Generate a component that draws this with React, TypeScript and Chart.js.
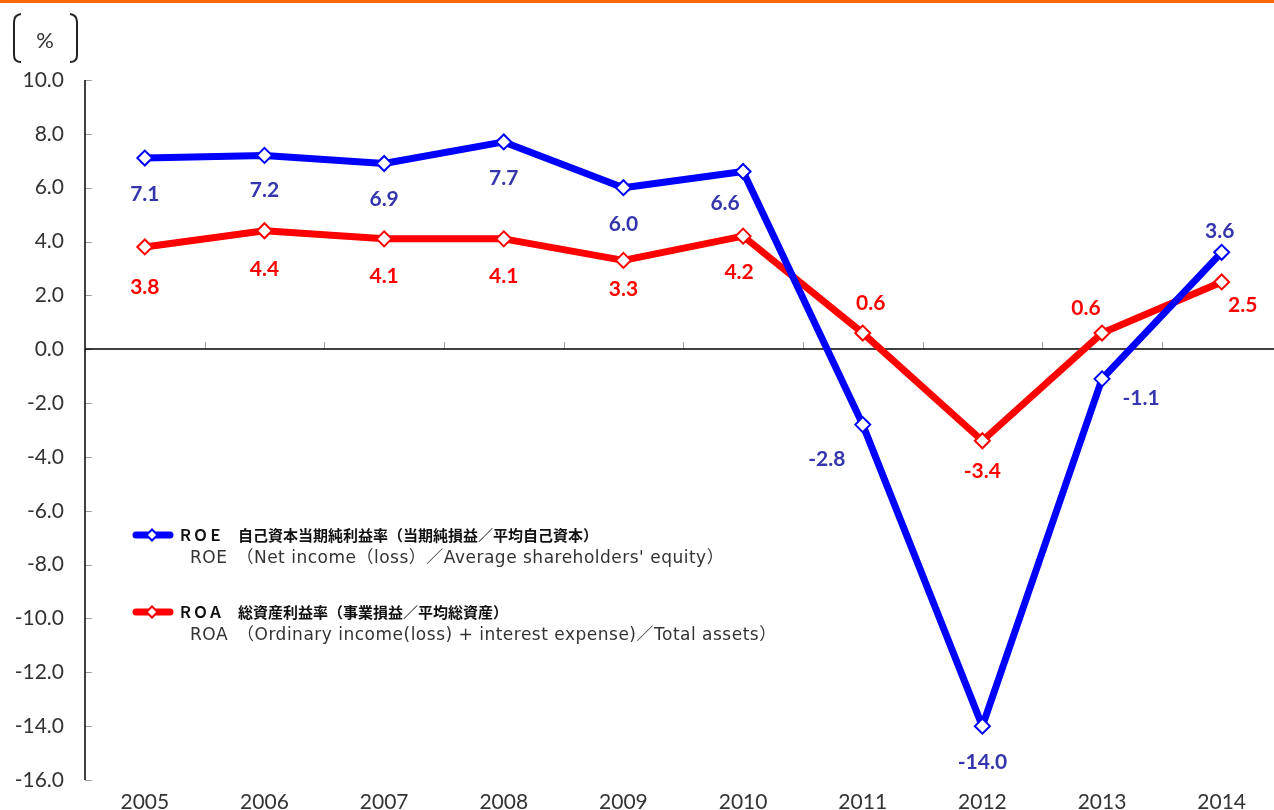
import React, { useEffect, useRef } from "react";
import { Chart, registerables } from "chart.js";

Chart.register(...registerables);

const years = ["2005", "2006", "2007", "2008", "2009", "2010", "2011", "2012", "2013", "2014"];
const roeValues = [7.1, 7.2, 6.9, 7.7, 6.0, 6.6, -2.8, -14.0, -1.1, 3.6];
const roaValues = [3.8, 4.4, 4.1, 4.1, 3.3, 4.2, 0.6, -3.4, 0.6, 2.5];
const yMin = -16;
const yMax = 10;
const yStep = 2;

const roeLabelOffsets: [number, number][] = [
  [0, 36], [0, 35], [0, 36], [0, 36], [0, 37], [-18, 32], [-36, 35], [0, 36], [39, 19], [-2, -21],
];
const roaLabelOffsets: [number, number][] = [
  [0, 40], [0, 38], [0, 37], [0, 37], [0, 29], [-4, 36], [8, -30], [0, 30], [-16, -25], [21, 23],
];

const legendItems = [
  {
    color: "#0000FF",
    title: "ＲＯＥ　自己資本当期純利益率（当期純損益／平均自己資本）",
    sub: "ROE　（Net income（loss）／Average shareholders' equity）",
    y: 535,
  },
  {
    color: "#FF0000",
    title: "ＲＯＡ　総資産利益率（事業損益／平均総資産）",
    sub: "ROA　（Ordinary income(loss) + interest expense)／Total assets）",
    y: 612,
  },
];

const TICK_FONT = "Lato, 'Noto Sans', sans-serif";
const CJK_FONT = "'Noto Sans CJK JP', 'Noto Sans', sans-serif";
const SUB_FONT = "'DejaVu Sans', 'Noto Sans CJK JP', sans-serif";

const decorPlugin = {
  id: "decor",
  beforeDatasetsDraw(chart: any) {
    const { ctx, chartArea, scales } = chart;
    const ys = scales.y;
    const xs = scales.x;
    ctx.save();
    ctx.strokeStyle = "#A0A0A0";
    ctx.lineWidth = 1;
    for (let v = yMin; v <= yMax; v += yStep) {
      const py = Math.round(ys.getPixelForValue(v)) + 0.5;
      ctx.beginPath();
      ctx.moveTo(chartArea.left, py);
      ctx.lineTo(chartArea.left + 7, py);
      ctx.stroke();
    }
    const y0 = Math.round(ys.getPixelForValue(0));
    for (let i = 1; i < years.length; i++) {
      const px = Math.round((xs.getPixelForValue(i - 1) + xs.getPixelForValue(i)) / 2) + 0.5;
      ctx.beginPath();
      ctx.moveTo(px, y0 - 7);
      ctx.lineTo(px, y0);
      ctx.stroke();
    }
    ctx.strokeStyle = "#000000";
    ctx.lineWidth = 1.5;
    ctx.beginPath();
    ctx.moveTo(chartArea.left, chartArea.top);
    ctx.lineTo(chartArea.left, chartArea.bottom);
    ctx.stroke();
    ctx.beginPath();
    ctx.moveTo(chartArea.left, y0);
    ctx.lineTo(chartArea.right, y0);
    ctx.stroke();
    ctx.restore();
  },
  afterDatasetsDraw(chart: any) {
    const { ctx } = chart;
    ctx.save();
    ctx.font = `bold 21px ${TICK_FONT}`;
    ctx.textAlign = "center";
    ctx.textBaseline = "middle";
    const configs = [
      { values: roeValues, offsets: roeLabelOffsets, color: "#3535AD" },
      { values: roaValues, offsets: roaLabelOffsets, color: "#FF0000" },
    ];
    configs.forEach((cfg, di) => {
      const meta = chart.getDatasetMeta(di);
      meta.data.forEach((pt: any, i: number) => {
        const [dx, dy] = cfg.offsets[i];
        ctx.fillStyle = cfg.color;
        ctx.fillText(cfg.values[i].toFixed(1), pt.x + dx, pt.y + dy);
      });
    });
    ctx.restore();
  },
  afterDraw(chart: any) {
    const { ctx } = chart;
    ctx.save();
    ctx.fillStyle = "#FF6A00";
    ctx.fillRect(0, 0, chart.width, 3);
    ctx.strokeStyle = "#222222";
    ctx.lineWidth = 2;
    ctx.beginPath();
    ctx.moveTo(21, 14);
    ctx.quadraticCurveTo(14, 15, 14, 22);
    ctx.lineTo(14, 55);
    ctx.quadraticCurveTo(14, 62, 21, 62);
    ctx.stroke();
    ctx.beginPath();
    ctx.moveTo(70, 14);
    ctx.quadraticCurveTo(77, 15, 77, 22);
    ctx.lineTo(77, 55);
    ctx.quadraticCurveTo(77, 62, 70, 62);
    ctx.stroke();
    ctx.fillStyle = "#333333";
    ctx.font = `22px ${TICK_FONT}`;
    ctx.textAlign = "center";
    ctx.textBaseline = "middle";
    ctx.fillText("%", 45, 41);
    legendItems.forEach((item) => {
      ctx.strokeStyle = item.color;
      ctx.lineWidth = 7;
      ctx.lineCap = "round";
      ctx.beginPath();
      ctx.moveTo(136, item.y);
      ctx.lineTo(170, item.y);
      ctx.stroke();
      ctx.lineCap = "butt";
      ctx.fillStyle = "#FFFFFF";
      ctx.lineWidth = 2;
      const r = 5.5;
      ctx.beginPath();
      ctx.moveTo(152, item.y - r);
      ctx.lineTo(152 + r, item.y);
      ctx.lineTo(152, item.y + r);
      ctx.lineTo(152 - r, item.y);
      ctx.closePath();
      ctx.fill();
      ctx.stroke();
      ctx.textAlign = "left";
      ctx.textBaseline = "middle";
      ctx.fillStyle = "#111111";
      ctx.font = `bold 15px ${CJK_FONT}`;
      ctx.fillText(item.title, 178, item.y);
      ctx.fillStyle = "#333333";
      ctx.font = `17px ${SUB_FONT}`;
      (ctx as any).letterSpacing = "0.5px";
      ctx.fillText(item.sub, 190, item.y + 24);
      (ctx as any).letterSpacing = "0px";
    });
    ctx.restore();
  },
};

export default function App() {
  const canvasRef = useRef<HTMLCanvasElement | null>(null);

  useEffect(() => {
    const canvas = canvasRef.current;
    if (!canvas) return;
    const chart = new Chart(canvas, {
      type: "line",
      data: {
        labels: years,
        datasets: [
          {
            label: "ROE",
            data: roeValues,
            borderColor: "#0000FF",
            backgroundColor: "#FFFFFF",
            borderWidth: 7,
            pointStyle: "rectRot",
            pointRadius: 7.5,
            pointBorderWidth: 2,
            pointBorderColor: "#0000FF",
            pointBackgroundColor: "#FFFFFF",
            borderJoinStyle: "round",
            tension: 0,
          },
          {
            label: "ROA",
            data: roaValues,
            borderColor: "#FF0000",
            backgroundColor: "#FFFFFF",
            borderWidth: 7,
            pointStyle: "rectRot",
            pointRadius: 7.5,
            pointBorderWidth: 2,
            pointBorderColor: "#FF0000",
            pointBackgroundColor: "#FFFFFF",
            borderJoinStyle: "round",
            tension: 0,
          },
        ],
      },
      options: {
        responsive: false,
        animation: false,
        events: [],
        layout: { padding: { top: 80, right: 0, bottom: 0, left: 0 } },
        plugins: {
          legend: { display: false },
          tooltip: { enabled: false },
        },
        scales: {
          x: {
            type: "category",
            offset: true,
            grid: { display: false, drawTicks: false },
            border: { display: false },
            afterFit: (scale: any) => {
              scale.height = 30;
              scale.paddingLeft = 0;
              scale.paddingRight = 0;
            },
            ticks: {
              color: "#333333",
              font: { family: TICK_FONT, size: 21 },
              padding: 10,
              maxRotation: 0,
              minRotation: 0,
              autoSkip: false,
            },
          },
          y: {
            type: "linear",
            min: yMin,
            max: yMax,
            grid: { display: false, drawTicks: false },
            border: { display: false },
            afterFit: (scale: any) => {
              scale.width = 85;
              scale.paddingTop = 0;
              scale.paddingBottom = 0;
            },
            ticks: {
              stepSize: yStep,
              color: "#333333",
              font: { family: TICK_FONT, size: 21 },
              padding: 21,
              callback: (v: any) => Number(v).toFixed(1),
            },
          },
        },
      },
      plugins: [decorPlugin],
    });
    return () => chart.destroy();
  }, []);

  return (
    <div
      style={{
        position: "fixed",
        left: 0,
        top: 0,
        width: 1274,
        height: 810,
        overflow: "hidden",
        background: "#FFFFFF",
      }}
    >
      <canvas ref={canvasRef} width={1291} height={810} style={{ width: 1291, height: 810, display: "block" }} />
    </div>
  );
}
